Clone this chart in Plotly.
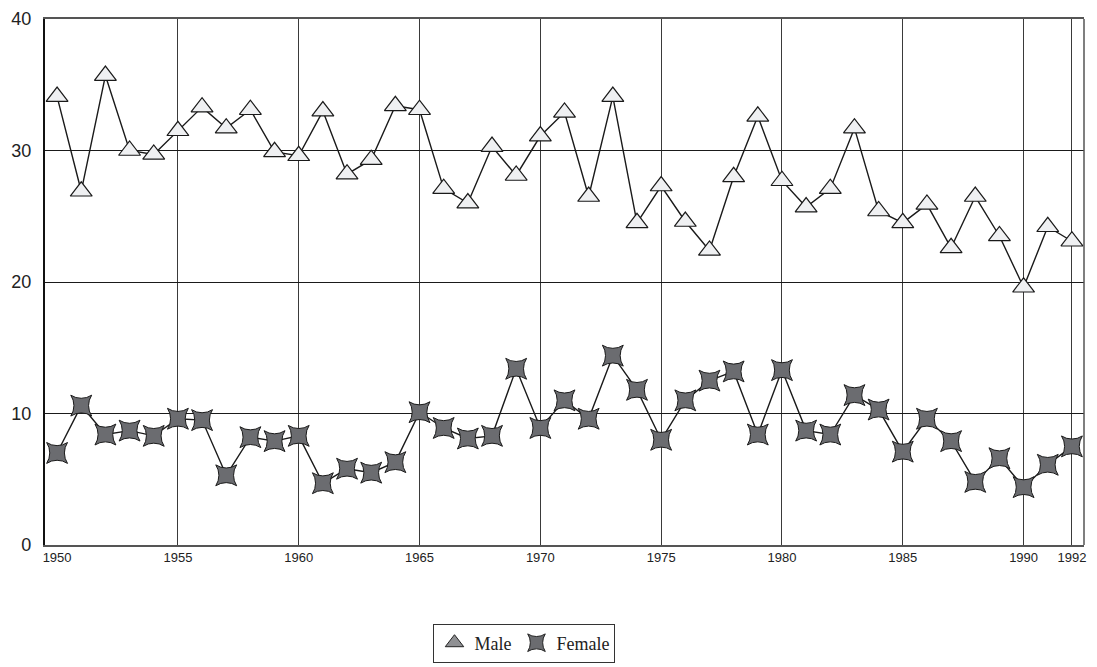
import plotly.graph_objects as go

years = list(range(1950, 1993))
male = [34.1, 26.9, 35.7, 30.0, 29.7, 31.5, 33.3, 31.7, 33.1, 29.9,
        29.6, 33.0, 28.2, 29.3, 33.4, 33.1, 27.1, 26.0, 30.3, 28.1,
        31.1, 32.9, 26.5, 34.1, 24.5, 27.3, 24.6, 22.4, 28.0, 32.6,
        27.7, 25.7, 27.1, 31.7, 25.4, 24.5, 25.9, 22.6, 26.5, 23.5,
        19.6, 24.2, 23.1]
female = [7.0, 10.6, 8.4, 8.7, 8.3, 9.6, 9.5, 5.3, 8.2, 7.9,
          8.3, 4.7, 5.8, 5.5, 6.3, 10.1, 8.9, 8.1, 8.3, 13.4,
          8.9, 11.0, 9.6, 14.4, 11.8, 8.0, 11.0, 12.5, 13.2, 8.4,
          13.3, 8.7, 8.4, 11.4, 10.3, 7.1, 9.6, 7.9, 4.8, 6.6,
          4.4, 6.1, 7.5]
x_tick_years = [1950, 1955, 1960, 1965, 1970, 1975, 1980, 1985, 1990, 1992]
x_grid_years = [1955, 1960, 1965, 1970, 1975, 1980, 1985, 1990, 1992]
y_ticks = [0, 10, 20, 30, 40]

fig = go.Figure()
fig.add_trace(go.Scatter(
    x=years, y=male, mode="lines+markers", name="Male", showlegend=False,
    line=dict(color="#1a1a1a", width=1.4),
    marker=dict(symbol="triangle-up", size=19, color="#eff0f2",
                line=dict(color="#1a1a1a", width=1.2)),
))
fig.add_trace(go.Scatter(
    x=years, y=female, mode="lines+markers", name="Female", showlegend=False,
    line=dict(color="#1a1a1a", width=1.4),
    marker=dict(symbol="star-square", size=19, color="#6b6c70",
                line=dict(color="#1a1a1a", width=1)),
))
# legend-only entries
fig.add_trace(go.Scatter(
    x=[None], y=[None], mode="markers", name="Male",
    marker=dict(symbol="triangle-up", size=18, color="#8f9093",
                line=dict(color="#222", width=1)),
))
fig.add_trace(go.Scatter(
    x=[None], y=[None], mode="markers", name="Female",
    marker=dict(symbol="star-square", size=19, color="#6b6c70",
                line=dict(color="#222", width=1)),
))

fig.update_layout(
    width=1089, height=659,
    margin=dict(l=37, r=13, t=11, b=122),
    paper_bgcolor="white", plot_bgcolor="white",
    font=dict(family="Liberation Sans, Arial, sans-serif", color="#222"),
    showlegend=True,
    legend=dict(
        orientation="h", xref="paper", x=0.4615, xanchor="center",
        yref="container", y=0.066, yanchor="top",
        bordercolor="#333", borderwidth=1, bgcolor="white",
        font=dict(family="Liberation Serif, Times New Roman, serif", size=18, color="#222"),
        itemwidth=30, tracegroupgap=0,
    ),
    xaxis=dict(
        range=[1949.5, 1992.5], tickmode="array", tickvals=x_tick_years,
        ticktext=[str(v) for v in x_tick_years], automargin=False,
        showgrid=False, zeroline=False, ticks="",
        tickfont=dict(size=13, color="#222"),
        showline=True, linecolor="#555", linewidth=1.5, mirror=True,
        minor=dict(tickmode="array", tickvals=x_grid_years, showgrid=True,
                   gridcolor="#3a3a3a", gridwidth=1.2, ticks=""),
    ),
    yaxis=dict(
        range=[0, 40], tickmode="array", tickvals=y_ticks, automargin=False,
        showgrid=True, gridcolor="#1a1a1a", gridwidth=1.2, zeroline=False,
        ticks="", tickfont=dict(size=18, color="#222"), ticklabelstandoff=8,
        showline=True, linecolor="#111", linewidth=2.2,
    ),
    shapes=[dict(type="line", xref="paper", yref="paper", x0=1, x1=1, y0=0, y1=1,
                 line=dict(color="#555", width=1.5))],
)

fig.write_html("out.html")
